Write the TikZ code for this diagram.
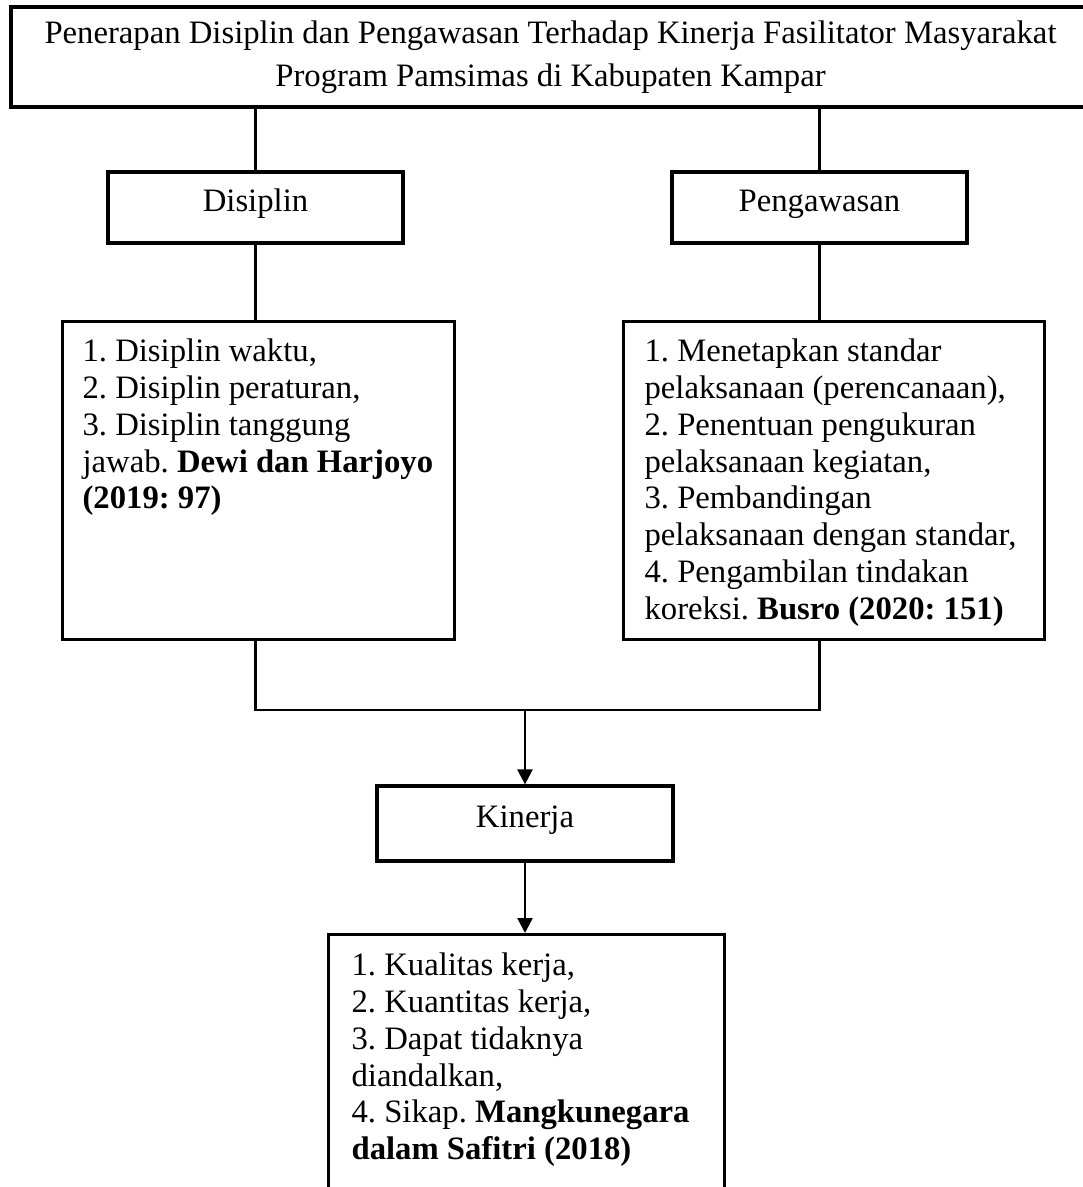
\documentclass[tikz,border=0pt]{standalone}
\usepackage{fontspec}
\setmainfont{Liberation Serif}
\usetikzlibrary{arrows.meta}
\frenchspacing
\begin{document}
\begin{tikzpicture}[x=1pt,y=-1pt,
  box/.style={draw=black, line width=3.2pt, rectangle, inner sep=0pt, font=\fontsize{32.7}{36.8}\selectfont},
  label box/.style={box, text height=22pt, text depth=14pt},
  conn/.style={line width=2.4pt, draw=black},
  arr/.style={conn, -{Triangle[width=15pt,length=15pt]}}]
\clip (0,0) rectangle (1083,1187);
\useasboundingbox (0,0) rectangle (1083,1187);
\fill[white] (0,0) rectangle (1083,1187);
% top title box (its right edge runs past the picture)
\node[box, minimum width=1079pt, minimum height=100pt, align=center, font=\fontsize{32.7}{43}\selectfont] (top) at (550.5,57)
  {Penerapan Disiplin dan Pengawasan Terhadap Kinerja Fasilitator Masyarakat\\Program Pamsimas di Kabupaten Kampar};
\node[label box, minimum width=295pt, minimum height=71pt] (dis) at (255.5,207.5) {Disiplin};
\node[label box, minimum width=295pt, minimum height=71pt] (peng) at (819.5,207.5) {Pengawasan};
\node[box, anchor=north west] (ld) at (61,320) {\parbox[c][318pt][t]{392pt}{\leftskip=20pt\rightskip=0pt plus 1fil\parindent=0pt\rule{0pt}{40pt}1. Disiplin waktu,\\2. Disiplin peraturan,\\3. Disiplin tanggung\\jawab. \textbf{Dewi dan Harjoyo}\\\textbf{(2019: 97)}}};
\node[box, anchor=north west] (lp) at (622,320) {\parbox[c][318pt][t]{421pt}{\leftskip=21pt\rightskip=0pt plus 1fil\parindent=0pt\rule{0pt}{40pt}1. Menetapkan standar\\pelaksanaan (perencanaan),\\2. Penentuan pengukuran\\pelaksanaan kegiatan,\\3. Pembandingan\\pelaksanaan dengan standar,\\4. Pengambilan tindakan\\koreksi. \textbf{Busro (2020: 151)}}};
\node[label box, minimum width=296pt, minimum height=75pt] (kin) at (525,823.5) {Kinerja};
\node[box, anchor=north west] (kk) at (327,933) {\parbox[c][280pt][t]{396pt}{\leftskip=23pt\rightskip=0pt plus 1fil\parindent=0pt\rule{0pt}{41pt}1. Kualitas kerja,\\2. Kuantitas kerja,\\3. Dapat tidaknya\\diandalkan,\\4. Sikap. \textbf{Mangkunegara}\\\textbf{dalam Safitri (2018)}}};
\coordinate (j) at (525,710);
\draw[conn] (top.south -| dis) -- (dis.north);
\draw[conn] (top.south -| peng) -- (peng.north);
\draw[conn] (dis.south) -- (dis.south |- ld.north);
\draw[conn] (peng.south) -- (peng.south |- lp.north);
\draw[conn] (dis.south |- ld.south) |- (j) -| (peng.south |- lp.south);
\draw[arr] (j) -- (j |- kin.north);
\draw[arr] (kin.south) -- (kin.south |- kk.north);
\end{tikzpicture}
\end{document}
